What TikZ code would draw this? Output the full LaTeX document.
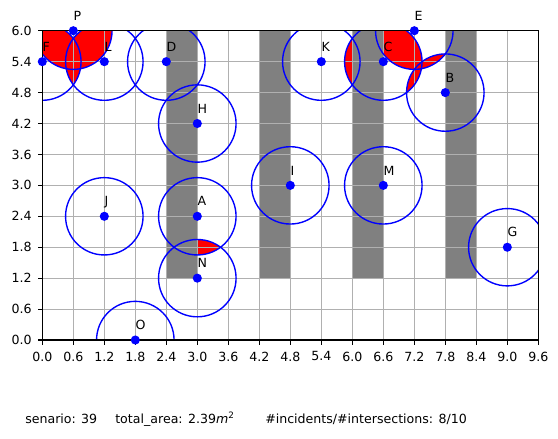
\documentclass[tikz,border=0pt]{standalone}
\usepackage{fontspec}
\setmainfont{DejaVu Sans}
\usepackage{xcolor}
\definecolor{gridgray}{HTML}{B0B0B0}
\definecolor{obsgray}{HTML}{808080}

\begin{document}
\begin{tikzpicture}[x=1.3124cm, y=1.3094cm,
    /pgf/number format/assume math mode=true,
    every node/.style={font=\fontsize{9.1}{11}\selectfont},
    ptlabel/.style={anchor=base west, inner sep=0pt},
    ticklabel/.style={inner sep=0pt}]
			\useasboundingbox (-0.819,-1.920) rectangle (9.981,6.596);
			% sensor positions
			\foreach \p/\x/\y in {P/0.6/6.0, F/0.0/5.4, L/1.2/5.4, D/2.4/5.4, H/3.0/4.2, K/5.4/5.4, C/6.6/5.4, E/7.2/6.0, B/7.8/4.8, I/4.8/3.0, M/6.6/3.0, J/1.2/2.4, A/3.0/2.4, N/3.0/1.2, O/1.8/0.0, G/9.0/1.8}
				\coordinate (\p) at (\x,\y);
			\begin{scope}
				\clip (0,0) rectangle (9.6,6);
				% incidents
				\foreach \a/\b in {P/F, P/L, F/L, K/C, C/E, E/B, C/B, A/N}{
					\begin{scope}
						\clip (\a) circle (0.75);
						\fill[red] (\b) circle (0.75);
					\end{scope}
				}
				% obstacles
				\foreach \x in {2.4,4.2,6.0,7.8}
					\fill[obsgray] (\x,1.2) rectangle ++(0.6,4.8);
				\draw[gridgray, line width=0.8pt] (0,0) grid[step=0.6] (9.6,6);
				\foreach \p in {P,F,L,D,H,K,C,E,B,I,M,J,A,N,O,G}
					\draw[blue, line width=1pt] (\p) circle (0.75);
			\end{scope}
			\draw[line width=0.8pt] (0,0) rectangle (9.6,6);
			% ticks
			\foreach \i in {0,...,16}{
				\pgfmathsetmacro\xv{0.6*\i}
				\draw[line width=0.8pt] (\xv,0) -- ++(0,-3.3pt);
				\node[ticklabel, anchor=north] (xt\i) at ([yshift=-8.3pt]\xv,0) {\pgfmathprintnumber[fixed,fixed zerofill,precision=1]{\xv}};
			}
			\foreach \i in {0,...,10}{
				\pgfmathsetmacro\yv{0.6*\i}
				\draw[line width=0.8pt] (0,\yv) -- ++(-3.3pt,0);
				\node[ticklabel, anchor=east] (yt\i) at ([xshift=-7.5pt]0,\yv) {\pgfmathprintnumber[fixed,fixed zerofill,precision=1]{\yv}};
			}
			% sensors
			\foreach \p in {P,F,L,D,H,K,C,E,B,I,M,J,A,N,O,G}{
				\fill[blue] (\p) circle (3.3pt);
				\path (\p) ++(0,0.2) node[ptlabel] (lab\p) {\p};
			}
			\node[anchor=base west, inner sep=0pt] (scen) at (-0.335,-1.616) {senario: 39};
			\node[anchor=base west, inner sep=0pt] (area) at (1.407,-1.616) {total\_area: 2.39{\itshape m}\textsuperscript{2}};
			\node[anchor=base west, inner sep=0pt] (incid) at (4.310,-1.616) {\#incidents/\#intersections: 8/10};
		\end{tikzpicture}
\end{document}
